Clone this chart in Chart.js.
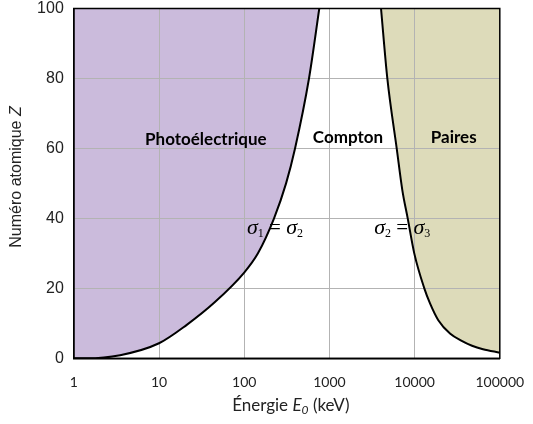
<!DOCTYPE html>
<html>
<head>
<meta charset="utf-8">
<script src="https://cdn.jsdelivr.net/npm/chart.js@4.4.1/dist/chart.umd.min.js"></script>
<style>
  html, body { margin: 0; padding: 0; background: #fff; }
</style>
</head>
<body>
<canvas id="chart" width="533" height="424"></canvas>
<script>
// ===== Data =====
const energyTicks = [1, 10, 100, 1000, 10000, 100000];
const zTicks = [0, 20, 40, 60, 80, 100];

// sigma1 = sigma2 boundary (photoelectric / Compton)
const photoEnergy = [1, 1.41, 3.5, 10, 21, 45, 100, 145, 224, 310, 395, 576, 761];
const photoZ      = [0, 0, 0.9, 4.3, 9.5, 16, 24.5, 30, 40, 50, 60, 80, 100];

// sigma2 = sigma3 boundary (Compton / pairs)
const pairEnergy = [4035, 4785, 6165, 7175, 8300, 9910, 13000, 15170, 18970, 26020, 35720, 47200, 63500, 100000];
const pairZ      = [100, 80, 60, 48.1, 40, 30, 20, 15.7, 10.9, 7.1, 5.0, 3.6, 2.6, 1.6];

// region labels, placed in data units
const regionNames  = ["Photoélectrique", "Compton", "Paires"];
const regionEnergy = [35.5, 1650, 28800];
const regionZ      = [62.5, 63, 63];

// sigma_a = sigma_b labels
const sigmaPairs  = [["1", "2"], ["2", "3"]];
const sigmaEnergy = [230, 7170];
const sigmaZ      = [36.7, 36.7];

// ===== Helpers =====
function toPoints(xs, ys) {
    return xs.map((x, i) => ({ x: x, y: ys[i] }));
}

// draw a row of text pieces centred on (cx, baseline)
function drawRuns(ctx, runs, cx, baseline) {
    let total = 0;
    runs.forEach(r => {
        ctx.font = r.font;
        r.w = ctx.measureText(r.text).width;
        total += r.w;
    });
    let x = cx - total / 2;
    ctx.textAlign = "left";
    ctx.textBaseline = "alphabetic";
    runs.forEach(r => {
        ctx.font = r.font;
        ctx.fillText(r.text, x, baseline + (r.dy || 0));
        x += r.w;
    });
}

// ===== Frame + annotations =====
const framePlugin = {
    id: "frame",
    afterDatasetsDraw(chart) {
        const { ctx, chartArea: a } = chart;
        ctx.save();
        ctx.strokeStyle = "#000";
        ctx.lineWidth = 1.5;
        ctx.strokeRect(a.left, a.top, a.right - a.left, a.bottom - a.top);
        ctx.restore();
    }
};

const labelPlugin = {
    id: "labels",
    afterDraw(chart) {
        const ctx = chart.ctx;
        const xs = chart.scales.x, ys = chart.scales.y;
        ctx.save();
        ctx.fillStyle = "#000";

        // region names
        ctx.font = "bold 17px Lato";
        ctx.textAlign = "center";
        ctx.textBaseline = "middle";
        regionNames.forEach((name, i) => {
            ctx.fillText(name, xs.getPixelForValue(regionEnergy[i]), ys.getPixelForValue(regionZ[i]));
        });

        // sigma equalities
        const sig = "italic 22px 'Liberation Serif'";
        const sub = "12px 'Liberation Serif'";
        sigmaPairs.forEach((p, i) => {
            drawRuns(ctx, [
                { text: "σ", font: sig },
                { text: p[0], font: sub, dy: 3 },
                { text: " = ", font: "21px 'Liberation Serif'" },
                { text: "σ", font: sig },
                { text: p[1], font: sub, dy: 3 }
            ], xs.getPixelForValue(sigmaEnergy[i]), ys.getPixelForValue(sigmaZ[i]) + 4);
        });

        // x axis title
        ctx.fillStyle = "#222";
        drawRuns(ctx, [
            { text: "Énergie ", font: "17px Lato" },
            { text: "E", font: "italic 17px Lato" },
            { text: "0", font: "italic 12px Lato", dy: 3 },
            { text: " (keV)", font: "17px Lato" }
        ], (chart.chartArea.left + chart.chartArea.right) / 2 + 4, 411);

        // y axis title
        ctx.translate(21, 177);
        ctx.rotate(-Math.PI / 2);
        drawRuns(ctx, [
            { text: "Numéro atomique ", font: "16px 'Liberation Sans'" },
            { text: "Z", font: "italic 16px 'Liberation Sans'" }
        ], 0, 0);
        ctx.restore();
    }
};

// ===== Chart =====
const ctx = document.getElementById("chart").getContext("2d");
new Chart(ctx, {
    type: "line",
    data: {
        datasets: [{
            data: toPoints(photoEnergy, photoZ),
            borderColor: "#000",
            borderWidth: 2,
            backgroundColor: "#cbbbdc",
            fill: "end",
            pointRadius: 0,
            cubicInterpolationMode: "monotone"
        }, {
            data: toPoints(pairEnergy, pairZ),
            borderColor: "#000",
            borderWidth: 2,
            backgroundColor: "#dddbba",
            fill: "end",
            pointRadius: 0,
            cubicInterpolationMode: "monotone"
        }]
    },
    options: {
        responsive: false,
        animation: false,
        devicePixelRatio: 1,
        layout: { padding: 0 },
        plugins: {
            legend: { display: false },
            tooltip: { enabled: false },
            filler: { drawTime: "beforeDraw" }
        },
        scales: {
            x: {
                type: "logarithmic",
                min: 1,
                max: 100000,
                afterBuildTicks: s => { s.ticks = energyTicks.map(v => ({ value: v })); },
                afterFit: s => {
                    s.height = 65.7;
                    s.paddingLeft = 0;
                    s.paddingRight = 33.2;
                },
                ticks: {
                    callback: v => String(v),
                    font: { family: "Lato", size: 14 },
                    color: "#222",
                    padding: 16,
                    maxRotation: 0,
                    autoSkip: false
                },
                grid: { color: "#b3b3b3", lineWidth: 1, drawTicks: false },
                border: { color: "#000", width: 1.5 }
            },
            y: {
                type: "linear",
                min: 0,
                max: 100,
                afterBuildTicks: s => { s.ticks = zTicks.map(v => ({ value: v })); },
                afterFit: s => {
                    s.width = 73.8;
                    s.paddingTop = 8.5;
                    s.paddingBottom = 0;
                },
                ticks: {
                    font: { family: "Liberation Sans", size: 16 },
                    color: "#222",
                    padding: 10
                },
                grid: { color: "#b3b3b3", lineWidth: 1, drawTicks: false },
                border: { color: "#000", width: 1.5 }
            }
        }
    },
    plugins: [framePlugin, labelPlugin]
});
</script>
</body>
</html>
